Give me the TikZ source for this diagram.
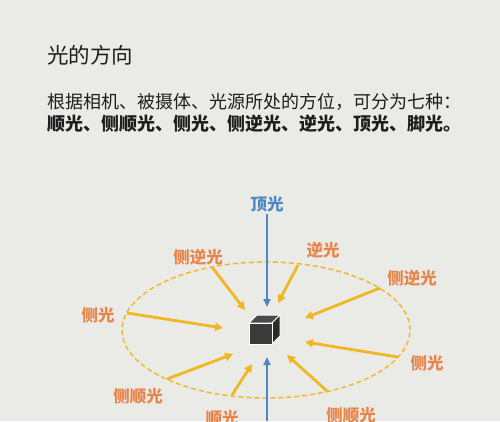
\documentclass[tikz,border=0pt]{standalone}
\usepackage{fontspec}
\newfontfamily\cjk{Noto Sans CJK SC}
\usetikzlibrary{arrows.meta}
\definecolor{bg}{HTML}{EAEAE7}
\definecolor{lblue}{HTML}{4E87C2}
\definecolor{lorange}{HTML}{E8854B}
\definecolor{lyellow}{HTML}{F1B722}
\definecolor{ltext}{HTML}{1E1E1E}
\definecolor{cubefront}{HTML}{3A3A3A}
\definecolor{cubetop}{HTML}{4A4A4A}
\definecolor{cubeside}{HTML}{2A2A2A}
\begin{document}
\begin{tikzpicture}[x=1pt,y=-1pt,
  lbl/.style={font=\cjk\bfseries\fontsize{16.5}{16.5}\selectfont, text=lorange, inner sep=0pt},
  toplbl/.style={lbl, text=lblue},
  yarrow/.style={draw=lyellow, line width=2.8pt, -{Triangle[length=8pt,width=8pt]}},
  barrow/.style={draw=lblue, line width=2pt, -{Triangle[length=8pt,width=7pt]}},
  cubeface/.style={draw=white, line width=1pt, line join=round},
]
\fill[bg] (0,0) rectangle (500,421);
\useasboundingbox (0,0) rectangle (500,421);

% texts
\node[anchor=west, inner sep=0pt, text=ltext, font=\cjk\fontsize{21.5}{21.5}\selectfont] (title) at (47,55) {光的方向};
\node[anchor=west, inner sep=0pt, text=ltext, font=\cjk\fontsize{18}{18}\selectfont] (line1) at (47,102) {根据相机、被摄体、光源所处的方位，可分为七种：};
\node[anchor=west, inner sep=0pt, text=ltext, font=\cjk\bfseries\fontsize{18}{18}\selectfont] (line2) at (47,124) {顺光、侧顺光、侧光、侧逆光、逆光、顶光、脚光。};

% ellipse
\draw[lyellow, line width=1.4pt, dash pattern=on 5pt off 3pt] (266,330) ellipse [x radius=144pt, y radius=68pt];

% cube
\coordinate (c1) at (249,323);
\coordinate (c2) at (272,323);
\coordinate (c3) at (272,344);
\coordinate (c4) at (249,344);
\coordinate (c5) at (257,315);
\coordinate (c6) at (280,315);
\coordinate (c7) at (280,336);
\fill[cubetop, cubeface] (c1) -- (c5) -- (c6) -- (c2) -- cycle;
\fill[cubeside, cubeface] (c2) -- (c6) -- (c7) -- (c3) -- cycle;
\fill[cubefront, cubeface] (c1) -- (c2) -- (c3) -- (c4) -- cycle;

% labels
\node[toplbl] (top) at (267,204) {顶光};
\node[lbl] (ulsl) at (198,257) {侧逆光};
\node[lbl] (back) at (323,250) {逆光};
\node[lbl] (ursl) at (412,278) {侧逆光};
\node[lbl] (lside) at (98,315) {侧光};
\node[lbl] (rside) at (427,363) {侧光};
\node[lbl] (llf) at (138,396) {侧顺光};
\node[lbl] (front) at (222,418) {顺光};
\node[lbl] (lrf) at (351,415) {侧顺光};

% blue arrows
\coordinate (topS) at (267,214);
\coordinate (topE) at (267,307);
\coordinate (botS) at (267,421);
\coordinate (botE) at (267,357);
\draw[barrow] (topS) -- (topE);
\draw[barrow] (botS) -- (botE);

% yellow arrows
\coordinate (s1) at (212,267); \coordinate (e1) at (245,310);
\coordinate (s2) at (298,265); \coordinate (e2) at (278,303);
\coordinate (s3) at (380,288); \coordinate (e3) at (305,318);
\coordinate (s4) at (127,313); \coordinate (e4) at (223,328);
\coordinate (s5) at (398,357); \coordinate (e5) at (305,342);
\coordinate (s6) at (167,379); \coordinate (e6) at (233,354);
\coordinate (s7) at (232,395); \coordinate (e7) at (252,364);
\coordinate (s8) at (327,391); \coordinate (e8) at (287,355);
\foreach \i in {1,...,8} \draw[yarrow] (s\i) -- (e\i);
\end{tikzpicture}
\end{document}
